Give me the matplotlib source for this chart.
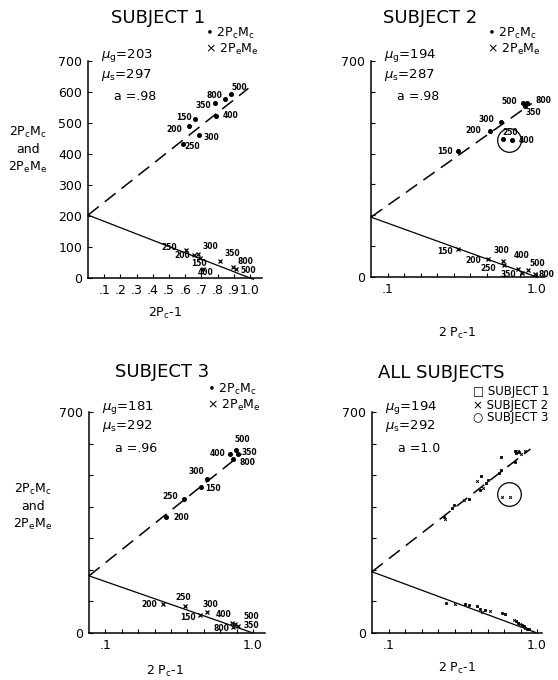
import matplotlib
matplotlib.use("Agg")
import matplotlib.pyplot as plt
import numpy as np

W, H = 558, 680

# fitted parameters per panel
titles = ["SUBJECT 1", "SUBJECT 2", "SUBJECT 3", "ALL SUBJECTS"]
mu_g = [203, 194, 181, 194]
mu_s = [297, 287, 292, 292]
a_val = [".98", ".98", ".96", "1.0"]
dash_top = [616, 574, 596, 599]   # dashed fit line value at 2Pc-1 = 1

# subject 1
s1_c_lab = ["500", "800", "350", "400", "150", "200", "300", "250"]
s1_c_x = [0.883, 0.846, 0.785, 0.790, 0.662, 0.625, 0.687, 0.584]
s1_c_y = [595, 579, 563, 523, 514, 490, 460, 433]
s1_e_lab = ["250", "200", "300", "150", "400", "350", "800", "500"]
s1_e_x = [0.605, 0.656, 0.680, 0.690, 0.708, 0.817, 0.893, 0.914]
s1_e_y = [89, 75, 78, 66, 30, 54, 35, 30]

# subject 2
s2_c_lab = ["500", "800", "350", "300", "200", "150", "250", "400"]
s2_c_x = [0.919, 0.939, 0.930, 0.787, 0.716, 0.522, 0.797, 0.848]
s2_c_y = [563, 565, 553, 503, 474, 409, 446, 444]
s2_e_lab = ["150", "200", "300", "250", "400", "350", "500", "800"]
s2_e_x = [0.522, 0.705, 0.797, 0.800, 0.888, 0.909, 0.949, 0.988]
s2_e_y = [92, 57, 51, 38, 27, 14, 22, 11]

# subject 3
s3_c_lab = ["500", "400", "350", "800", "300", "150", "250", "200"]
s3_c_x = [0.896, 0.860, 0.910, 0.876, 0.720, 0.683, 0.579, 0.470]
s3_c_y = [581, 568, 566, 550, 489, 463, 426, 368]
s3_e_lab = ["200", "250", "150", "300", "400", "500", "350", "800"]
s3_e_x = [0.453, 0.585, 0.677, 0.720, 0.870, 0.890, 0.910, 0.880]
s3_e_y = [92, 86, 58, 65, 32, 28, 23, 19]

# all subjects (subject id per point)
all_c_x = [0.782, 0.868, 0.875, 0.883, 0.889, 0.903, 0.929, 0.868, 0.784, 0.771,
           0.660, 0.636, 0.700, 0.693, 0.673, 0.656, 0.586, 0.555, 0.495, 0.485,
           0.438, 0.444, 0.788, 0.838]
all_c_y = [559, 576, 570, 578, 573, 568, 578, 543, 515, 506,
           496, 483, 486, 475, 460, 454, 425, 422, 404, 397,
           369, 362, 430, 432]
all_c_s = [1, 1, 3, 2, 3, 2, 2, 3, 1, 3, 1, 2, 3, 1, 2, 3, 1, 2, 3, 1, 3, 2, 2, 2]
all_e_x = [0.450, 0.505, 0.565, 0.586, 0.636, 0.667, 0.656, 0.687, 0.717, 0.788,
           0.804, 0.858, 0.875, 0.882, 0.895, 0.909, 0.919, 0.929, 0.939, 0.949]
all_e_y = [95, 91, 91, 88, 84, 66, 77, 74, 69, 63,
           59, 42, 38, 32, 28, 24, 21, 17, 14, 12]
all_e_s = [3, 2, 1, 3, 1, 2, 3, 1, 2, 3, 1, 2, 3, 1, 2, 3, 1, 2, 3, 1]

# circled outliers (panel 2 and all subjects)
circ_x = [0.835, 0.828]
circ_y = [444, 441]

# label offsets in pixels (layout only)
s1_c_off = [(8, 6), (-11, 3), (-12, -2), (15, 0), (-11, 1), (-15, -3), (12, -2), (10, -3)]
s1_e_off = [(-17, 3), (-12, -1), (12, 7), (-1, -6), (3, -4), (12, 8), (13, 6), (12, -2)]
s2_c_off = [(-14, 2), (17, 2), (8, -6), (-15, 2), (-16, 0), (-13, -1), (7, 7), (15, -1)]
s2_e_off = [(-13, -3), (-15, -1), (-2, 11), (-15, -3), (3, 13), (-13, -2), (9, 7), (12, -1)]
s3_c_off = [(6, 10), (-12, 0), (11, 2), (15, -3), (-11, 7), (12, -2), (-14, 2), (15, -1)]
s3_e_off = [(-14, -1), (-2, 8), (-12, -3), (3, 8), (-8, 8), (16, 8), (13, 0), (-12, -1)]

fig = plt.figure(figsize=(W / 100, H / 100), dpi=100)


def box(l, r, t, b):
    return [l / W, 1 - b / H, (r - l) / W, (b - t) / H]


def ftext(x, y, s, **kw):
    fig.text(x / W, 1 - y / H, s, **kw)


rects = [(88, 262, 61, 278), (371, 545, 61, 277), (89, 265, 412, 633), (372, 542, 412, 633)]
xmaxes = [1.074, 1.05, 1.073, 1.03]
dash_end = [0.99, 0.97, 0.93, 0.96]
solid_end = [1.02, 1.0, 0.99, 0.99]

axes = []
for i in range(4):
    l, r, t, b = rects[i]
    ax = fig.add_axes(box(l, r, t, b))
    ax.set_xlim(0, xmaxes[i])
    ax.set_ylim(0, 700)
    for sp in ["top", "right"]:
        ax.spines[sp].set_visible(False)
    for sp in ["left", "bottom"]:
        ax.spines[sp].set_linewidth(1.1)
    ax.set_yticks(range(0, 701, 100))
    ax.set_xticks(np.round(np.arange(0.1, 1.01, 0.1), 1))
    if i == 0:
        ax.set_yticklabels([str(v) for v in range(0, 701, 100)])
        ax.set_xticklabels([".1", ".2", ".3", ".4", ".5", ".6", ".7", ".8", ".9", "1.0"])
    else:
        ax.set_yticklabels(["0", "", "", "", "", "", "", "700"])
        ax.set_xticklabels([".1", "", "", "", "", "", "", "", "", "1.0"])
    ax.tick_params(direction="in", length=3, width=0.8, labelsize=9, pad=4)

    xs = np.array([0, dash_end[i]])
    ax.plot(xs, mu_g[i] + (dash_top[i] - mu_g[i]) * xs, color="black", lw=1.1,
            dashes=(9, 5), clip_on=False)
    xs = np.array([0, solid_end[i]])
    ax.plot(xs, mu_g[i] * (1 - xs), color="black", lw=0.9, clip_on=False)
    axes.append(ax)

    ftext(l + 13, t - 5, r"$\mu_{\rm g}$=" + str(mu_g[i]), fontsize=9.5, va="center")
    ftext(l + 13, t + 14, r"$\mu_{\rm s}$=" + str(mu_s[i]), fontsize=9.5, va="center")
    ftext(l + 26, t + 36, "a =" + a_val[i], fontsize=9, va="center")

subjects = [
    (s1_c_x, s1_c_y, s1_c_lab, s1_c_off, s1_e_x, s1_e_y, s1_e_lab, s1_e_off),
    (s2_c_x, s2_c_y, s2_c_lab, s2_c_off, s2_e_x, s2_e_y, s2_e_lab, s2_e_off),
    (s3_c_x, s3_c_y, s3_c_lab, s3_c_off, s3_e_x, s3_e_y, s3_e_lab, s3_e_off),
]
for ax, (cx, cy, cl, co, ex, ey, el, eo) in zip(axes[:3], subjects):
    ax.plot(cx, cy, "o", color="black", ms=2.6, clip_on=False)
    ax.plot(ex, ey, "x", color="black", ms=3.2, mew=0.9, clip_on=False)
    for x, y, s, o in zip(cx, cy, cl, co):
        ax.annotate(s, (x, y), xytext=o, textcoords="offset pixels",
                    ha="center", va="center", fontsize=5.5, fontweight="bold")
    for x, y, s, o in zip(ex, ey, el, eo):
        ax.annotate(s, (x, y), xytext=o, textcoords="offset pixels",
                    ha="center", va="center", fontsize=5.5, fontweight="bold")

# all subjects panel
mk = {1: dict(marker="s", ms=1.6, mew=0.6),
      2: dict(marker="x", ms=1.9, mew=0.7),
      3: dict(marker="o", ms=1.7, mew=0.6)}
for x, y, s in zip(all_c_x + all_e_x, all_c_y + all_e_y, all_c_s + all_e_s):
    axes[3].plot(x, y, ls="none", color="black", clip_on=False, **mk[s])

axes[1].plot(circ_x[0], circ_y[0], "o", mfc="none", color="black", ms=17, mew=0.9)
axes[3].plot(circ_x[1], circ_y[1], "o", mfc="none", color="black", ms=17, mew=0.9)

# titles, legends, axis labels
ftext(158, 18, titles[0], fontsize=13, ha="center", va="center")
ftext(430, 18, titles[1], fontsize=13, ha="center", va="center")
ftext(162, 372, titles[2], fontsize=13, ha="center", va="center")
ftext(441, 373, titles[3], fontsize=13, ha="center", va="center")

leg_c = r"$\bullet$ 2P$_{\rm c}$M$_{\rm c}$"
leg_e = r"$\times$ 2P$_{\rm e}$M$_{\rm e}$"
for x, y in [(205, 33), (487, 33), (207, 389)]:
    ftext(x, y, leg_c, fontsize=9, va="center")
    ftext(x, y + 16, leg_e, fontsize=9, va="center")
ftext(473, 392, "\u25a1 SUBJECT 1", fontsize=8.5, va="center")
ftext(473, 405, "\u00d7 SUBJECT 2", fontsize=8.5, va="center")
ftext(473, 418, "\u25cb SUBJECT 3", fontsize=8.5, va="center")

ylab = "2P$_{\\rm c}$M$_{\\rm c}$\nand\n2P$_{\\rm e}$M$_{\\rm e}$"
ftext(28, 150, ylab, fontsize=9, ha="center", va="center", linespacing=1.3)
ftext(33, 507, ylab, fontsize=9, ha="center", va="center", linespacing=1.3)

ftext(165, 313, "2P$_{\\rm c}$-1", fontsize=9, ha="center", va="center")
ftext(457, 333, "2 P$_{\\rm c}$-1", fontsize=9, ha="center", va="center")
ftext(165, 671, "2 P$_{\\rm c}$-1", fontsize=9, ha="center", va="center")
ftext(457, 668, "2 P$_{\\rm c}$-1", fontsize=9, ha="center", va="center")

fig.savefig("out.png", dpi=100)
